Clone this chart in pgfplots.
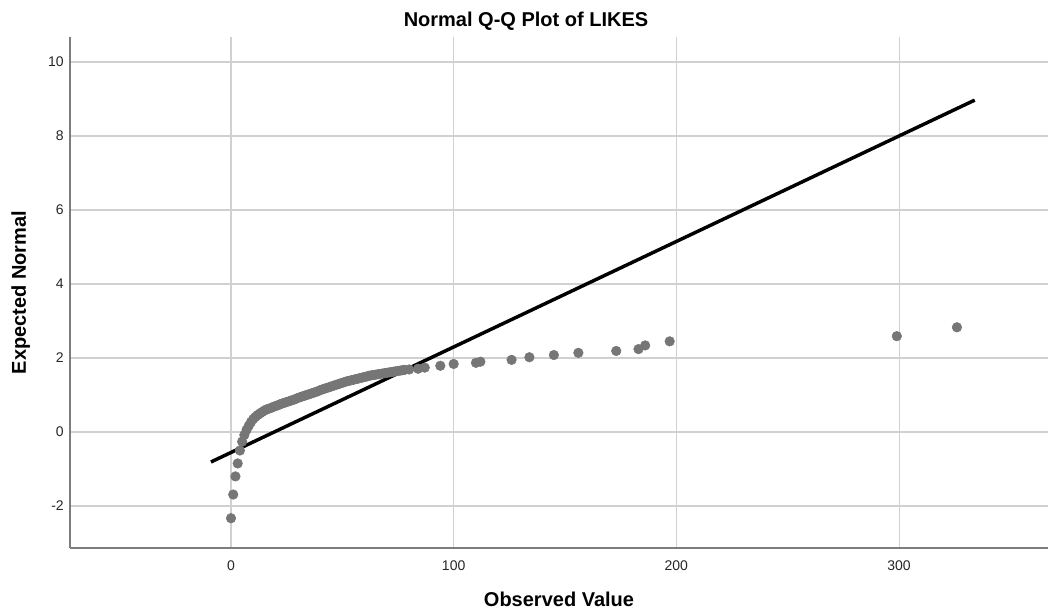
\documentclass[border=0pt]{standalone}
\usepackage{fontspec}
\setmainfont{Liberation Sans}
\usepackage{pgfplots}
\pgfplotsset{compat=1.18}
\usepackage{pgfplotstable}
\definecolor{ptgray}{RGB}{118,118,118}
\definecolor{gridgray}{RGB}{208,208,208}
\definecolor{axgray}{RGB}{125,125,125}
\pgfplotstableread{
x y
0 -2.33
1 -1.69
2 -1.20
3 -0.85
4 -0.50
5 -0.26
6 -0.08
7 0.06
8 0.17
9 0.27
10 0.35
11 0.41
12 0.46
13 0.50
14 0.54
15 0.58
16 0.61
17 0.63
18 0.65
19 0.68
20 0.70
21 0.72
22 0.75
23 0.77
24 0.79
25 0.81
26 0.83
27 0.85
28 0.87
29 0.89
30 0.92
31 0.94
32 0.96
33 0.98
34 1.00
35 1.02
36 1.04
37 1.06
38 1.08
39 1.10
40 1.13
41 1.15
42 1.17
43 1.19
44 1.21
45 1.23
46 1.25
47 1.27
48 1.29
49 1.31
50 1.33
51 1.35
52 1.37
53 1.38
54 1.40
55 1.41
56 1.43
57 1.44
58 1.46
59 1.47
60 1.49
61 1.50
62 1.52
63 1.53
64 1.54
65 1.55
66 1.56
67 1.57
68 1.58
69 1.59
70 1.60
71 1.61
72 1.62
73 1.63
74 1.64
75 1.65
76 1.66
77 1.67
78 1.68
80 1.69
84 1.71
87 1.74
94 1.79
100 1.84
110 1.87
112 1.90
126 1.95
134 2.02
145 2.08
156 2.14
173 2.19
183 2.24
186 2.34
197 2.45
299 2.59
326 2.83
}\likes
\begin{document}
\begin{tikzpicture}
\begin{axis}[
  name=ax,
  scale only axis, width=733.5pt, height=383.25pt,
  xmin=-72.3, xmax=366.9, ymin=-3.135, ymax=10.676,
  axis x line*=bottom, axis y line*=left,
  every outer x axis line/.append style={-},
  every outer y axis line/.append style={-},
  axis line style={draw=axgray, line width=1.1pt, -},
  xtick={0,100,200,300}, xticklabels={0,100,200,300},
  ytick={-2,0,2,4,6,8,10}, yticklabels={-2,0,2,4,6,8,10},
  major tick length=0pt,
  tick style={draw=none},
  grid=major,
  grid style={draw=gridgray, line width=0.8pt},
  ticklabel style={font=\fontsize{10.5}{12}\selectfont, text=black!85},
  xticklabel style={inner sep=0pt, anchor=north, yshift=-9pt},
  yticklabel style={inner sep=0pt, anchor=east, xshift=-4.5pt},
]
\addplot[only marks, mark=*, mark size=3.6pt, draw=ptgray, fill=ptgray] table[x=x,y=y] {\likes};
\addplot[black, line width=2.6pt, mark=none] coordinates {(-9,-0.81) (334,8.97)};
\end{axis}
\node[anchor=base, font=\fontsize{15}{18}\selectfont\bfseries] at ([xshift=342pt, yshift=7.7pt]ax.north west) {Normal Q-Q Plot of LIKES};
\node[anchor=base, font=\fontsize{15}{18}\selectfont\bfseries] at ([yshift=-44pt]ax.south) {Observed Value};
\node[anchor=base, rotate=90, font=\fontsize{15}{18}\selectfont\bfseries] at ([xshift=-33pt]ax.west) {Expected Normal};
\pgfresetboundingbox
\path ([xshift=-52.5pt,yshift=-50.25pt]ax.south west) rectangle ([xshift=3pt,yshift=27.75pt]ax.north east);
\end{tikzpicture}
\end{document}
